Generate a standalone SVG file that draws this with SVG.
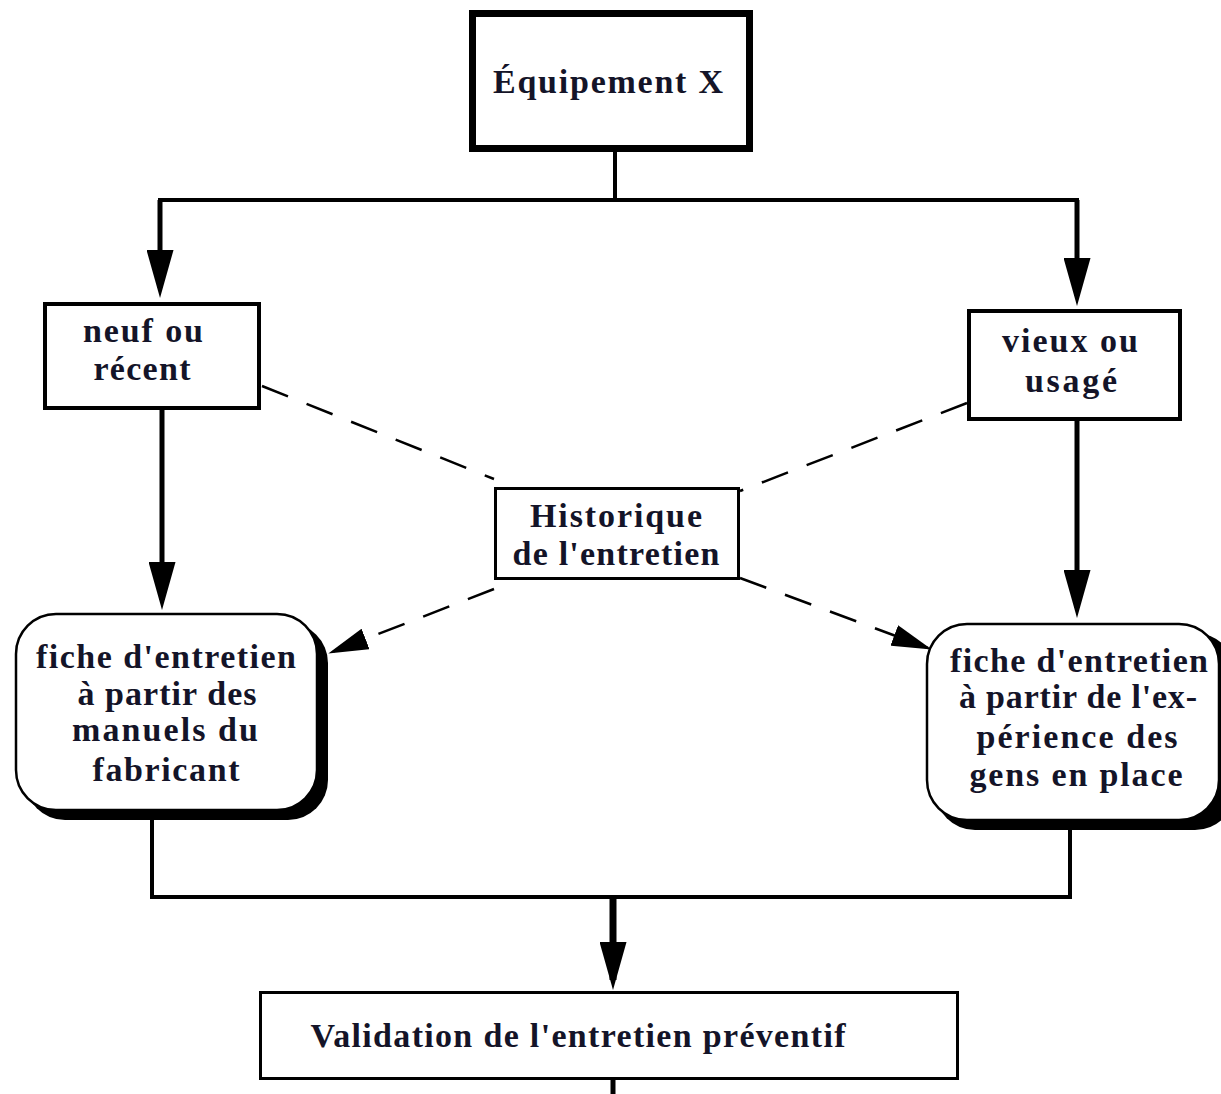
<svg xmlns="http://www.w3.org/2000/svg" width="1221" height="1094" viewBox="0 0 1221 1094">
<style>
text{font-family:"Liberation Serif","DejaVu Serif",serif;font-weight:bold;font-size:34px;fill:#141428;text-anchor:middle}
.box{fill:#fff;stroke:#000}
.ln{fill:none;stroke:#000;stroke-width:5}
.dash{fill:none;stroke:#000;stroke-width:2.5;stroke-dasharray:28 20}
</style>
<defs>
<marker id="arr" markerUnits="userSpaceOnUse" markerWidth="48" markerHeight="27" viewBox="0 0 48 27" refX="38" refY="13.5" orient="auto">
<path d="M0,0 L48,13.5 L0,27 Z" fill="#000"/>
</marker>
<marker id="arrs" markerUnits="userSpaceOnUse" markerWidth="40" markerHeight="22" viewBox="0 0 40 22" refX="36" refY="11" orient="auto">
<path d="M0,0 L40,11 L0,22 Z" fill="#000"/>
</marker>
</defs>
<rect width="1221" height="1094" fill="#fff"/>
<g id="connectors">
<path class="ln" d="M615,152 V200" style="stroke-width:4"/>
<path class="ln" d="M158,200 H1079" style="stroke-width:4"/>
<path class="ln" d="M160,200 V288" marker-end="url(#arr)"/>
<path class="ln" d="M1077,200 V296" marker-end="url(#arr)"/>
<path class="ln" d="M162,410 V600" marker-end="url(#arr)"/>
<path class="ln" d="M1077,421 V608" marker-end="url(#arr)"/>
<path class="ln" d="M152,820 V897 H1070 V830" style="stroke-width:4"/>
<path class="ln" d="M613,897 V980" style="stroke-width:7" marker-end="url(#arr)"/>
<path class="ln" d="M613,1080 V1094"/>
<path class="dash" d="M262,386 L494,479"/>
<path class="dash" d="M967,403 L740,491"/>
<path class="dash" d="M494,589 L332,652" marker-end="url(#arrs)"/>
<path class="dash" d="M740,578 L928,648" marker-end="url(#arrs)"/>
</g>
<g id="equipement">
<rect class="box" x="472.5" y="13.5" width="277" height="135" stroke-width="7"/>
<text x="608" y="93" font-size="35" textLength="230" lengthAdjust="spacing">Équipement X</text>
</g>
<g id="neuf">
<rect class="box" x="45" y="304" width="214" height="104" stroke-width="4"/>
<text x="143" y="342" textLength="120" lengthAdjust="spacing">neuf ou</text>
<text x="142" y="380" textLength="97" lengthAdjust="spacing">récent</text>
</g>
<g id="vieux">
<rect class="box" x="969" y="311" width="211" height="108" stroke-width="4"/>
<text x="1070" y="352" textLength="136" lengthAdjust="spacing">vieux ou</text>
<text x="1071" y="392" textLength="92" lengthAdjust="spacing">usagé</text>
</g>
<g id="historique">
<rect class="box" x="495.5" y="488.5" width="243" height="90" stroke-width="3"/>
<text x="616" y="527" textLength="172" lengthAdjust="spacing">Historique</text>
<text x="616" y="565" textLength="207" lengthAdjust="spacing">de l'entretien</text>
</g>
<g id="fiche-fabricant">
<rect x="25" y="623" width="303" height="197" rx="40" fill="#000"/>
<rect class="box" x="16" y="614" width="301" height="196" rx="40" stroke-width="2.5"/>
<text x="166" y="668" textLength="260" lengthAdjust="spacing">fiche d'entretien</text>
<text x="167" y="705" textLength="179" lengthAdjust="spacing">à partir des</text>
<text x="165" y="741" textLength="186" lengthAdjust="spacing">manuels du</text>
<text x="166" y="781" textLength="147" lengthAdjust="spacing">fabricant</text>
</g>
<g id="fiche-experience">
<rect x="935" y="633" width="300" height="197" rx="40" fill="#000"/>
<rect class="box" x="927" y="624" width="292" height="196" rx="40" stroke-width="2.5"/>
<text x="1079" y="672" textLength="258" lengthAdjust="spacing">fiche d'entretien</text>
<text x="1078" y="708" textLength="238" lengthAdjust="spacing">à partir de l'ex-</text>
<text x="1077" y="748" textLength="201" lengthAdjust="spacing">périence des</text>
<text x="1076" y="786" textLength="213" lengthAdjust="spacing">gens en place</text>
</g>
<g id="validation">
<rect class="box" x="260.5" y="992.5" width="697" height="86" stroke-width="3"/>
<text x="578" y="1047" textLength="535" lengthAdjust="spacing">Validation de l'entretien préventif</text>
</g>
</svg>
